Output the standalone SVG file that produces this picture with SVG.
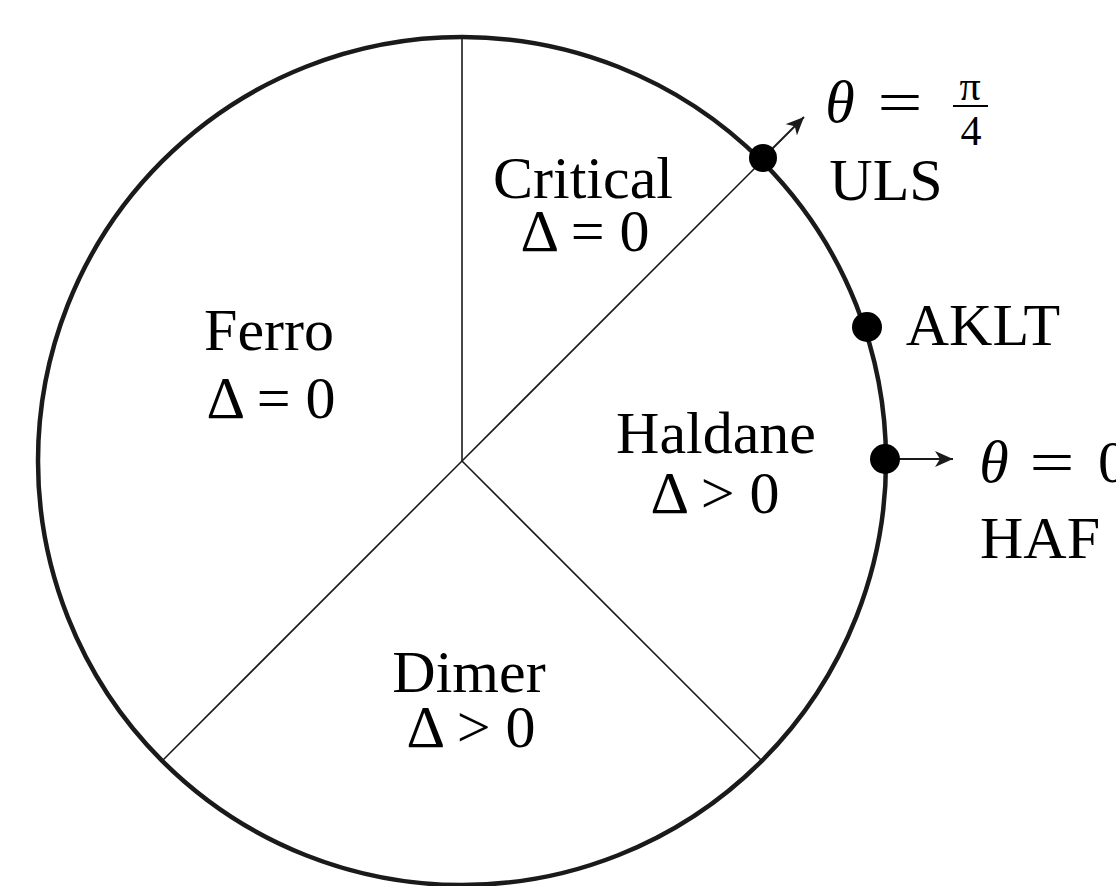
<svg xmlns="http://www.w3.org/2000/svg" width="1116" height="886" viewBox="0 0 1116 886">
<defs>
<style>
.t{font-family:"Liberation Serif","DejaVu Serif",serif;font-size:60px;fill:#000;text-anchor:middle}
.m{font-style:italic}
.f{font-size:42px}
.div{stroke:#1a1a1a;stroke-width:1.6;fill:none}
.arr{stroke:#1a1a1a;stroke-width:2;fill:none}
</style>
<marker id="ah" viewBox="0 0 18 16" refX="18" refY="8" markerWidth="18" markerHeight="16" markerUnits="userSpaceOnUse" orient="auto">
<path d="M0,0 L18,8 L0,16 L5,8 Z" fill="#1a1a1a"/>
</marker>
</defs>
<rect width="1116" height="886" fill="#fff"/>
<g id="circle">
<circle cx="462" cy="461" r="424" fill="none" stroke="#1a1a1a" stroke-width="4.5"/>
</g>
<g id="connectors">
<line class="div" x1="462" y1="461" x2="462" y2="37"/>
<line class="div" x1="462" y1="461" x2="762" y2="161"/>
<line class="div" x1="462" y1="461" x2="162" y2="761"/>
<line class="div" x1="462" y1="461" x2="762" y2="761"/>
<line class="arr" x1="763" y1="158" x2="804" y2="117" marker-end="url(#ah)"/>
<line class="arr" x1="885" y1="459" x2="953" y2="459" marker-end="url(#ah)"/>
</g>
<g id="critical">
<text class="t" x="583" y="198">Critical</text>
<text class="t" x="585" y="251">Δ = 0</text>
</g>
<g id="ferro">
<text class="t" x="269" y="350">Ferro</text>
<text class="t" x="271" y="418">Δ = 0</text>
</g>
<g id="haldane">
<text class="t" x="716" y="453">Haldane</text>
<text class="t" x="715" y="513">Δ &gt; 0</text>
</g>
<g id="dimer">
<text class="t" x="469" y="692">Dimer</text>
<text class="t" x="471" y="747">Δ &gt; 0</text>
</g>
<g id="uls">
<circle cx="763" cy="158" r="14" fill="#000"/>
<text class="t m" x="840" y="122">θ</text>
<text class="t" x="900" y="122" textLength="45" lengthAdjust="spacingAndGlyphs">=</text>
<text class="t f" x="970" y="100">π</text>
<line x1="953" y1="106" x2="988" y2="106" stroke="#000" stroke-width="2.2"/>
<text class="t f" x="971" y="145">4</text>
<text class="t" x="886" y="200">ULS</text>
</g>
<g id="aklt">
<circle cx="867" cy="327" r="15" fill="#000"/>
<text class="t" x="983" y="345">AKLT</text>
</g>
<g id="haf">
<circle cx="885" cy="459" r="15" fill="#000"/>
<text class="t m" x="994" y="482">θ</text>
<text class="t" x="1052" y="482" textLength="45" lengthAdjust="spacingAndGlyphs">=</text>
<text class="t" x="1113" y="482">0</text>
<text class="t" x="1040" y="558">HAF</text>
</g>
</svg>
